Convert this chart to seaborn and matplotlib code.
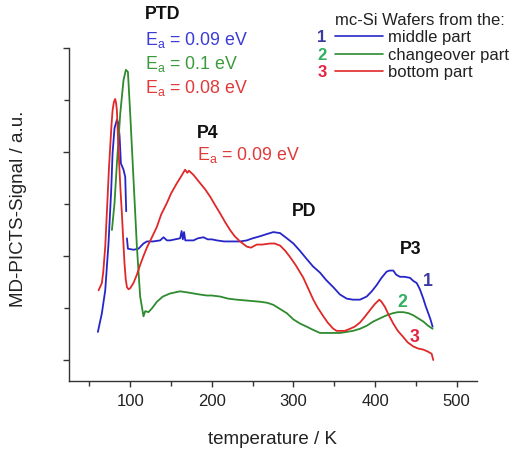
import numpy as np
import pandas as pd
import matplotlib
matplotlib.use("Agg")
import matplotlib.pyplot as plt
from matplotlib.ticker import MultipleLocator, FixedLocator, NullFormatter
import seaborn as sns

# ---------------- data ----------------
blue_T1 = [60.4, 65.3, 69.4, 73.4, 76.7, 78.4, 80.8, 83.7, 85.5, 87.0, 88.6, 91.8, 93.9, 95.1]
blue_v1 = [0.27, 0.45, 0.67, 1.12, 1.63, 1.99, 2.23, 2.31, 2.28, 2.15, 1.89, 1.83, 1.76, 1.43]

blue_T2 = [96.0, 97.2, 104, 110.2, 116.3, 120.4, 128, 136.7, 140.8, 145, 149, 155, 161.2, 163,
           164.5, 166, 167.5, 169.4, 177.5, 183, 189.8, 195, 200, 206.1, 215, 226.5, 235, 242.9,
           250, 259.2, 267, 275.5, 283.7, 292, 300, 308, 316.4, 324, 332.6, 340, 348.9, 357,
           365.3, 373, 381.6, 389.8, 396, 402, 408, 414.3, 418, 422.4, 426, 430.6, 436, 442.9,
           447, 451.1, 455, 459.2, 462, 465.3, 468, 470.6]
blue_v2 = [1.17, 1.07, 1.06, 1.07, 1.12, 1.14, 1.14, 1.15, 1.18, 1.15, 1.15, 1.16, 1.17, 1.24,
           1.16, 1.23, 1.15, 1.15, 1.15, 1.17, 1.18, 1.16, 1.16, 1.15, 1.14, 1.14, 1.14, 1.15,
           1.17, 1.19, 1.21, 1.23, 1.22, 1.17, 1.12, 1.05, 0.97, 0.90, 0.84, 0.77, 0.70, 0.63,
           0.59, 0.58, 0.58, 0.61, 0.66, 0.72, 0.79, 0.85, 0.86, 0.86, 0.82, 0.80, 0.80, 0.79,
           0.76, 0.74, 0.68, 0.59, 0.52, 0.45, 0.39, 0.32]

green_T = [77.6, 80.8, 83.7, 87.8, 91.8, 94.7, 97.2, 100, 104.1, 108.2, 112.2, 116.3, 118.4,
           122.4, 127, 132.7, 140, 149, 155, 161.2, 170, 177.5, 185, 193.9, 200, 210.2, 220,
           230.6, 245, 259.2, 268, 275.5, 283.7, 291.9, 300, 308.2, 316.4, 324, 332.6, 340,
           348.9, 357, 365.3, 373, 381.6, 390, 397.9, 406, 414.3, 422, 428, 434.7, 441, 446.9,
           453, 459.2, 465, 470.6]
green_v = [1.25, 1.51, 1.89, 2.37, 2.69, 2.79, 2.77, 2.37, 1.73, 1.09, 0.61, 0.42, 0.47,
           0.46, 0.50, 0.56, 0.61, 0.64, 0.65, 0.66, 0.65, 0.64, 0.63, 0.62, 0.62, 0.61, 0.59,
           0.58, 0.57, 0.56, 0.55, 0.53, 0.49, 0.45, 0.39, 0.35, 0.32, 0.29, 0.26, 0.26,
           0.26, 0.26, 0.27, 0.28, 0.30, 0.33, 0.37, 0.40, 0.43, 0.45, 0.46, 0.46, 0.45, 0.43,
           0.40, 0.37, 0.33, 0.30]

red_T = [61.2, 63, 65.3, 67, 69.4, 71, 72.7, 74, 75.5, 77, 78.4, 80, 81.6, 82.7, 83.7, 85,
         86.5, 88, 89.8, 91.5, 93, 94.5, 96, 98, 100, 104, 108.2, 112, 116.3, 120.4, 126,
         132.7, 138, 145, 150, 157.2, 162, 165, 167.3, 170, 172, 177.5, 185.7, 192, 198, 204,
         210.2, 216, 222.4, 228, 234.7, 242.9, 248, 255.1, 262, 271.4, 277, 283.7, 290, 295.9,
         303, 312.2, 318, 324.4, 330, 336.7, 342, 348.9, 353, 357.1, 363, 369.4, 375, 381.6,
         388, 393.9, 400, 405.3, 408, 412.2, 417, 422.4, 428, 434.7, 440, 446.9, 453, 459.2,
         465, 469.4, 471.4]
red_v = [0.67, 0.70, 0.74, 0.85, 1.09, 1.35, 1.63, 1.85, 2.05, 2.25, 2.40, 2.48, 2.51, 2.47,
         2.40, 2.15, 1.89, 1.65, 1.41, 1.15, 0.93, 0.78, 0.70, 0.68, 0.69, 0.74, 0.82, 0.91,
         1.00, 1.08, 1.17, 1.28, 1.40, 1.51, 1.60, 1.70, 1.76, 1.80, 1.83, 1.80, 1.82, 1.78,
         1.70, 1.64, 1.57, 1.49, 1.41, 1.33, 1.25, 1.19, 1.14, 1.09, 1.08, 1.11, 1.11, 1.12,
         1.12, 1.10, 1.05, 0.99, 0.91, 0.79, 0.69, 0.58, 0.50, 0.42, 0.36, 0.30, 0.28, 0.28,
         0.28, 0.30, 0.32, 0.36, 0.42, 0.48, 0.54, 0.58, 0.56, 0.51, 0.43, 0.35, 0.28, 0.22,
         0.17, 0.13, 0.11, 0.10, 0.08, 0.06, 0.00]

series_labels = ["middle part", "changeover part", "bottom part"]
series_numbers = ["1", "2", "3"]
x_ticks = [100, 200, 300, 400, 500]

# ---------------- style ----------------
sns.set_theme(style="ticks")
plt.rcParams["font.family"] = ["Liberation Sans", "DejaVu Sans"]
plt.rcParams["mathtext.default"] = "regular"

BLUE = "#2626c8"
GREEN = "#2e8b2e"
RED = "#e02828"
BLUE_T = "#3b3bd6"
GREEN_T = "#3c9a3c"
RED_T = "#e03a3a"

fig = plt.figure(figsize=(5.23, 4.5), dpi=100)
ax = fig.add_axes([69 / 523, 1 - 381 / 450, 408 / 523, 381 / 450])

lw = 1.3
sns.lineplot(x=blue_T1, y=blue_v1, ax=ax, color=BLUE, lw=lw, sort=False, label=series_labels[0])
sns.lineplot(x=blue_T2, y=blue_v2, ax=ax, color=BLUE, lw=lw, sort=False)
sns.lineplot(x=green_T, y=green_v, ax=ax, color=GREEN, lw=lw, sort=False, label=series_labels[1])
sns.lineplot(x=red_T, y=red_v, ax=ax, color=RED, lw=lw, sort=False, label=series_labels[2])

ax.set_xlim(25, 525)
ax.set_ylim(-0.202, 3.4615)

# axes / spines
for s in ["top", "right"]:
    ax.spines[s].set_visible(False)
ax.spines["left"].set_bounds(-0.202, 3.0)
for s in ["left", "bottom"]:
    ax.spines[s].set_color("#333333")
    ax.spines[s].set_linewidth(1.0)

ax.xaxis.set_major_locator(FixedLocator(x_ticks))
ax.xaxis.set_minor_locator(MultipleLocator(100, offset=50))
ax.yaxis.set_major_locator(FixedLocator([0, 1, 2, 3]))
ax.yaxis.set_minor_locator(FixedLocator([0.5, 1.5, 2.5]))
ax.yaxis.set_major_formatter(NullFormatter())
ax.tick_params(axis="both", which="both", direction="out", color="#333333", width=1.0)
ax.tick_params(axis="both", which="major", length=4.5)
ax.tick_params(axis="both", which="minor", length=3.5)
ax.tick_params(axis="x", which="major", labelsize=12, pad=5, labelcolor="#222222")

ax.set_xlabel("temperature / K", fontsize=13.5, color="#222222")
ax.set_ylabel("MD-PICTS-Signal / a.u.", fontsize=13.5, color="#222222")
ax.xaxis.set_label_coords(0.5, -0.13)
ax.yaxis.set_label_coords(-0.103, (381 - 208.5) / 381)

# annotations
fs = 12.8
ax.text(118.5, 3.32, "PTD", fontsize=fs, fontweight="bold", color="#111111", va="center")
ax.text(118.5, 3.08, "E$_a$ = 0.09 eV", fontsize=fs, color=BLUE_T, va="center")
ax.text(118.5, 2.85, "E$_a$ = 0.1 eV", fontsize=fs, color=GREEN_T, va="center")
ax.text(118.5, 2.62, "E$_a$ = 0.08 eV", fontsize=fs, color=RED_T, va="center")
ax.text(181.5, 2.18, "P4", fontsize=fs, fontweight="bold", color="#111111", va="center")
ax.text(181.5, 1.97, "E$_a$ = 0.09 eV", fontsize=fs, color=RED_T, va="center")
ax.text(298, 1.43, "PD", fontsize=fs, fontweight="bold", color="#111111", va="center")
ax.text(430.5, 1.06, "P3", fontsize=fs, fontweight="bold", color="#111111", va="center")
ax.text(464.3, 0.75, series_numbers[0], fontsize=fs, fontweight="bold", color="#3a3aa0", ha="center", va="center")
ax.text(433, 0.55, series_numbers[1], fontsize=fs, fontweight="bold", color="#30b060", ha="center", va="center")
ax.text(449, 0.22, series_numbers[2], fontsize=fs, fontweight="bold", color="#e82040", ha="center", va="center")

# legend
lfs = 12
leg = ax.legend(loc="upper left", bbox_to_anchor=((335 - 69) / 408, (381 - 13) / 381),
                frameon=False, fontsize=lfs, title="mc-Si Wafers from the:",
                title_fontsize=lfs, alignment="left", handlelength=2.9, handletextpad=0.3,
                labelspacing=0.14, borderpad=0, borderaxespad=0)
for t in leg.get_texts():
    t.set_color("#222222")
leg.get_title().set_color("#222222")
for line in leg.get_lines():
    line.set_linewidth(1.2)

# coloured numbers in front of the legend handles, aligned with each row
fig.canvas.draw()
num_colors = ["#3a3aa0", "#30b060", "#e82040"]
inv = ax.transAxes.inverted()
for n, c, t in zip(series_numbers, num_colors, leg.get_texts()):
    bb = t.get_window_extent()
    yc = (bb.y0 + bb.y1) / 2
    _, ya = inv.transform((0, yc))
    ax.text((322 - 69) / 408, ya, n, transform=ax.transAxes,
            fontsize=lfs, fontweight="bold", color=c, ha="center", va="center")

fig.savefig("out.png", dpi=100)
